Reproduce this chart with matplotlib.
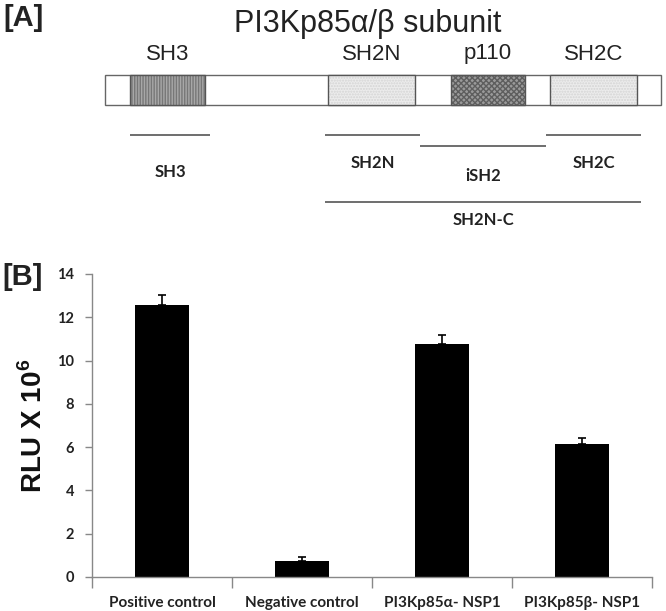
import matplotlib.pyplot as plt
from matplotlib.patches import Rectangle

plt.rcParams["mathtext.fontset"] = "custom"
plt.rcParams["mathtext.rm"] = "Liberation Sans:bold"
plt.rcParams["mathtext.bf"] = "Liberation Sans:bold"

# ---- panel A: domain map (positions in map units, 0..666 across the figure)
title_text = "PI3Kp85\u03b1/\u03b2 subunit"
protein_start, protein_end = 105, 661
domain_names = ["SH3", "SH2N", "p110", "SH2C"]
domain_starts = [130, 328, 451, 550]
domain_ends = [205, 415, 525, 637]
domain_faces = ["#a8a8a8", "#ececec", "#9a9a9a", "#ececec"]
domain_hatch = ["||||||", "......", "xxxxxx", "......"]
domain_hatch_col = ["#777777", "#d4d4d4", "#5e5e5e", "#d4d4d4"]

frag_names = ["SH3", "SH2N", "iSH2", "SH2C", "SH2N-C"]
frag_starts = [130, 325, 420, 546, 325]
frag_ends = [210, 420, 546, 641, 641]
frag_rows = [135, 135, 146, 135, 202]
frag_label_rows = [172, 163, 176, 163, 220]

# ---- panel B: luciferase assay
groups = ["Positive control", "Negative control",
          "PI3Kp85\u03b1- NSP1", "PI3Kp85\u03b2- NSP1"]
rlu = [12.55, 0.75, 10.75, 6.15]
rlu_err = [0.5, 0.18, 0.42, 0.25]
yticks = [0, 2, 4, 6, 8, 10, 12, 14]

W, H = 666, 611
fig = plt.figure(figsize=(W / 100, H / 100), dpi=100)

# top schematic
top_h = 245
axA = fig.add_axes([0, 1 - top_h / H, 1, top_h / H])
axA.set_xlim(0, W)
axA.set_ylim(top_h, 0)
axA.axis("off")

bar_y0, bar_y1 = 75, 105
axA.add_patch(Rectangle((protein_start, bar_y0), protein_end - protein_start,
                        bar_y1 - bar_y0, facecolor="white",
                        edgecolor="#666666", lw=1.0, zorder=1))
for name, s, e, fc, hp, hc in zip(domain_names, domain_starts, domain_ends,
                                  domain_faces, domain_hatch, domain_hatch_col):
    axA.add_patch(Rectangle((s, bar_y0), e - s, bar_y1 - bar_y0,
                            facecolor=fc, edgecolor=hc, hatch=hp, lw=0,
                            zorder=2))
    axA.add_patch(Rectangle((s, bar_y0), e - s, bar_y1 - bar_y0,
                            facecolor="none", edgecolor="#555555", lw=1.0,
                            zorder=3))
    axA.text((s + e) / 2, 54, name, ha="center", va="center", fontsize=16,
             family="Liberation Sans", color="#222222")

axA.text(368, 24, title_text, ha="center", va="center", fontsize=22,
         family="Liberation Sans", color="#222222")
axA.text(3, 18, "[A]", ha="left", va="center", fontsize=21,
         family="Liberation Sans", weight="bold", color="#222222")

for name, s, e, r, lr in zip(frag_names, frag_starts, frag_ends, frag_rows,
                             frag_label_rows):
    axA.plot([s, e], [r, r], color="#555555", lw=1.2, solid_capstyle="butt")
    axA.text((s + e) / 2, lr, name, ha="center", va="center", fontsize=12,
             family="Lato", weight="bold", color="#222222")

# bar chart
left, right = 92 / W, 652 / W
bottom, top = (H - 577) / H, (H - 274) / H
axB = fig.add_axes([left, bottom, right - left, top - bottom])
x = list(range(len(groups)))
axB.bar(x, rlu, width=0.39, color="black", zorder=2)
axB.errorbar(x, rlu, yerr=[[0] * len(rlu), rlu_err], fmt="none",
             ecolor="black", elinewidth=1.2, capsize=3, capthick=1.2,
             zorder=3)
axB.set_xlim(-0.5, len(groups) - 0.5)
axB.set_ylim(0, 14)
axB.set_yticks(yticks)
axB.set_yticklabels([str(t) for t in yticks], family="Lato", weight="bold",
                    fontsize=10.5, color="#222222")
axB.set_xticks(x)
axB.set_xticklabels(groups, family="Lato", weight="bold", fontsize=11,
                    color="#222222")
axB.set_xticks([i - 0.5 for i in range(len(groups) + 1)], minor=True)
axB.tick_params(axis="x", which="major", length=0, pad=14)
axB.tick_params(axis="x", which="minor", length=8, color="#888888",
                width=1)
axB.tick_params(axis="y", length=5, color="#888888", width=1, pad=8)
for side in ("top", "right"):
    axB.spines[side].set_visible(False)
for side in ("left", "bottom"):
    axB.spines[side].set_color("#888888")
    axB.spines[side].set_linewidth(1)
axB.set_ylabel("RLU X 10$^{6}$", fontsize=20, family="Liberation Sans",
               weight="bold", color="#111111")
axB.yaxis.set_label_coords(-0.078, 0.5)

fig.text(2 / W, 1 - 277 / H, "[B]", ha="left", va="center", fontsize=21,
         family="Liberation Sans", weight="bold", color="#222222")

fig.savefig("out.png", dpi=100)
